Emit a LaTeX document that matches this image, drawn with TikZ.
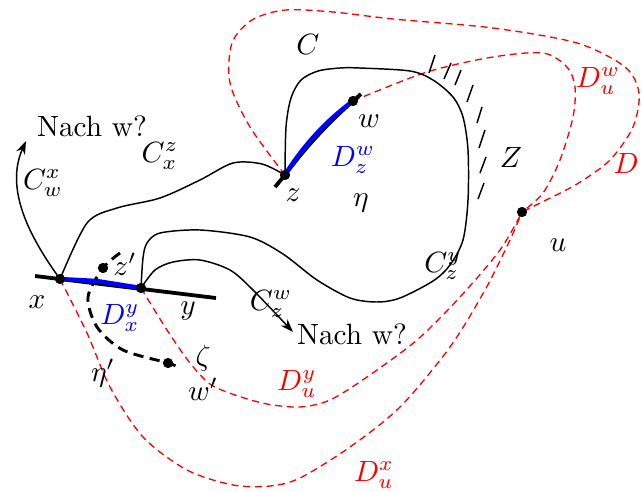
\documentclass[tikz,border=0pt]{standalone}
\usepackage{amsmath}
\usepackage{amssymb}
\usetikzlibrary{arrows.meta}
\tikzset{
  vdot/.style={circle, fill=black, inner sep=0pt, minimum size=3.4pt},
  lbl/.style={inner sep=0.5pt},
  curve/.style={line width=0.5pt},
  arrow/.style={line width=0.5pt,-{Stealth[length=4.5pt,width=3.2pt]}},
  reddash/.style={red, line width=0.45pt, dash pattern=on 2.4pt off 1.6pt},
  blackdash/.style={line width=1pt, dash pattern=on 3.5pt off 2.2pt},
  thickline/.style={line width=1.3pt},
  blueline/.style={blue, line width=1.5pt}
}

\begin{document}
\begin{tikzpicture}[x=0.012cm, y=-0.012cm]
        \useasboundingbox (0,0) rectangle (642,491);
        % Punkte
        \node (x) [vdot] at (60,279) {};
        \node (y) [vdot] at (141,288) {};
        \node (z) [vdot] at (285,175) {};
        \node (w) [vdot] at (353,101) {};
        \node (u) [vdot] at (522,212) {};
        \node (zp) [vdot] at (103,268) {};
        \node (wp) [vdot] at (168,363) {};
        \coordinate (xleft) at (35,276);
        \coordinate (yright) at (216,298);
        \coordinate (zlow) at (275,187);
        \coordinate (wtip) at (361,94);
        \coordinate (nachtop) at (26,141);
        \coordinate (nachbot) at (293,332);

        % rote Wege nach u
        \draw [reddash] plot[smooth] coordinates {(w.center) (427,72) (493,57) (543,53) (567,67) (575,87) (573,117) (560,160) (543,193) (u.center)};
        \draw [reddash] plot[smooth] coordinates {(z.center) (250,127) (230,83) (232,43) (252,20) (285,10) (333,12) (393,19) (493,28) (577,43) (625,67) (639,93) (633,127) (610,160) (577,184) (540,203) (u.center)};
        \draw [reddash] plot[smooth] coordinates {(y.center) (167,330) (190,363) (210,384) (235,395) (267,404) (300,407) (330,400) (367,377) (417,340) (460,297) (500,250) (u.center)};
        \draw [reddash] plot[smooth] coordinates {(x.center) (87,333) (110,387) (143,437) (187,470) (233,485) (270,486) (300,478) (350,447) (400,407) (450,347) (485,290) (510,240) (u.center)};

        % Kurven
        \draw [arrow] (x.center) .. controls (28,235) and (5,188) .. (nachtop);
        \draw [curve] plot[smooth] coordinates {(x.center) (87,223) (117,208) (160,198) (200,180) (233,163) (262,164) (z.center)};
        \draw [curve] plot[smooth] coordinates {(z.center) (286,127) (291,98) (301,80) (318,71) (340,68) (360,68) (410,71) (433,80) (453,97) (463,117) (468,150) (468,200) (463,240) (450,265) (433,281) (400,298) (377,302) (350,298) (317,280) (283,254) (250,237) (200,230) (160,233) (147,243) (143,258) (y.center)};
        \draw [arrow] plot[smooth] coordinates {(y.center) (155,270) (173,262) (200,260) (230,270) (253,290) (nachbot)};
        \foreach \a/\b/\c/\d in {435/55/429/73, 451/63/444/79, 461/70/455/85, 473/85/467/102, 482/107/477/123, 485/130/479/148, 486/157/480/173, 484/183/478/199}
            \draw [curve] (\a,\b) -- (\c,\d);

        % gestrichelter Weg
        \draw [blackdash] plot[smooth] coordinates {(120,253) (zp.center) (88,297) (97,327) (123,350) (wp.center) (178,367)};

        % dicke Stuecke
        \draw [thickline] (xleft) -- (yright);
        \draw [thickline] (zlow) -- (z.center) .. controls (304,149) and (327,124) .. (w.center) -- (wtip);
        \draw [blueline] (x.center) -- (97,281) -- (y.center);
        \draw [blueline] (z.center) .. controls (303,146) and (326,121) .. (w.center);
        \foreach \p in {x,y,z,w,u,zp,wp}
            \node [vdot] at (\p) {};

        % Beschriftungen
        \node (lnach1) [lbl] at (92,126) {Nach w?};
        \node (lnach2) [lbl] at (352,334) {Nach w?};
        \node (lcwx) [lbl] at (43,183) {$C_w^x$};
        \node (lcxz) [lbl] at (160,156) {$C_x^z$};
        \node (lc) [lbl] at (308,44) {$C$};
        \node (lz) [lbl] at (293,195) {$z$};
        \node (lw) [lbl] at (369,121) {$w$};
        \node (ldzw) [lbl, blue] at (353,160) {$D_z^w$};
        \node (leta) [lbl] at (361,203) {$\eta$};
        \node (lZ) [lbl] at (511,157) {$Z$};
        \node (lu) [lbl] at (558,245) {$u$};
        \node (lczy) [lbl] at (443,266) {$C_z^y$};
        \node (lczw) [lbl] at (271,304) {$C_z^w$};
        \node (lx) [lbl] at (37,302) {$x$};
        \node (ly) [lbl] at (188,311) {$y$};
        \node (ldxy) [lbl, blue] at (120,318) {$D_x^y$};
        \node (lzp) [lbl] at (125,264) {$z'$};
        \node (lzeta) [lbl] at (203,358) {$\zeta$};
        \node (lwp) [lbl] at (203,389) {$w'$};
        \node (letap) [lbl] at (103,373) {$\eta'$};
        \node (lduy) [lbl, red] at (297,384) {$D_u^y$};
        \node (ldux) [lbl, red] at (374,475) {$D_u^x$};
        \node (lduw) [lbl, red] at (598,81) {$D_u^w$};
        \node (ldu) [red, anchor=west, inner sep=0pt] at (613,163) {$D$};
    \end{tikzpicture}
\end{document}
